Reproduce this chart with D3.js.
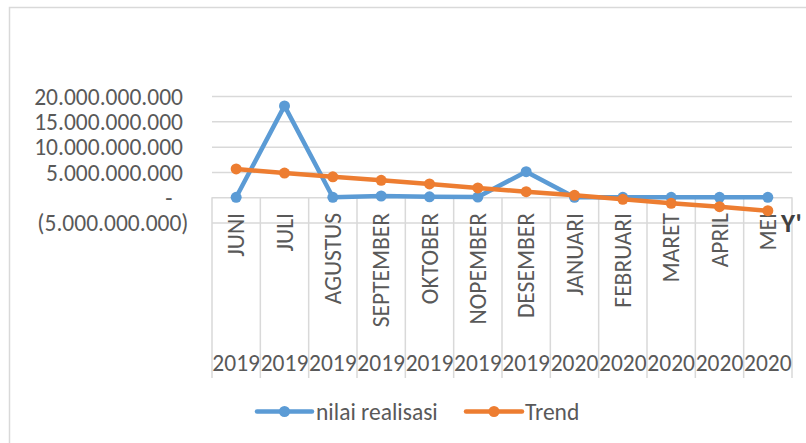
<!DOCTYPE html>
<html>
<head>
<meta charset="utf-8">
<script src="https://cdn.jsdelivr.net/npm/d3@7"></script>
<style>
  html, body { margin: 0; padding: 0; background: #ffffff; }
  svg { display: block; }
  text { font-family: Calibri, Carlito, "Liberation Sans", Arial, sans-serif; }
</style>
</head>
<body>
<svg id="chart" width="806" height="443"></svg>
<script>
// ---- data ----
const months = ["JUNI", "JULI", "AGUSTUS", "SEPTEMBER", "OKTOBER", "NOPEMBER", "DESEMBER",
                "JANUARI", "FEBRUARI", "MARET", "APRIL", "MEI"];
const years = ["2019", "2019", "2019", "2019", "2019", "2019", "2019",
               "2020", "2020", "2020", "2020", "2020"];
const nilaiRealisasi = [0, 18.04e9, 0, 0.25e9, 0.1e9, 0.05e9, 5.06e9, 0, 0, 0, 0, 0];
const trend = [5.59e9, 4.78e9, 4.05e9, 3.36e9, 2.63e9, 1.84e9, 1.11e9, 0.39e9,
               -0.40e9, -1.19e9, -1.86e9, -2.65e9];
const yTickValues = [-5e9, 0, 5e9, 10e9, 15e9, 20e9];
const yTickLabels = ["(5.000.000.000)", "-", "5.000.000.000", "10.000.000.000",
                     "15.000.000.000", "20.000.000.000"];
const seriesNames = ["nilai realisasi", "Trend"];
const seriesColors = ["#5B9BD5", "#ED7D31"];
const annotation = "Y'";

// ---- layout ----
const svg = d3.select("#chart");
const W = 806, H = 443;
const plotLeft = 212, plotRight = 792;
const textColor = "#595959";
const gridColor = "#d9d9d9";
const fs = 23.5;

// chart border (right/bottom edges fall outside the picture)
svg.append("rect")
  .attr("x", 9.5).attr("y", 7.5)
  .attr("width", W + 20).attr("height", H + 20)
  .attr("fill", "#fff")
  .attr("stroke", gridColor).attr("stroke-width", 1.5);

const x = d3.scaleBand().domain(months.map((m, i) => i)).range([plotLeft, plotRight]).padding(0);
const y = d3.scaleLinear().domain([-5e9, 20e9]).range([222.6, 96]);
const cx = i => x(i) + x.bandwidth() / 2;
const y0 = y(0);

// horizontal gridlines
const grid = svg.append("g").attr("transform", `translate(${plotLeft},0)`)
  .call(d3.axisLeft(y).tickValues(yTickValues).tickSize(-(plotRight - plotLeft)).tickFormat(""));
grid.select(".domain").remove();
grid.selectAll(".tick line").attr("stroke", gridColor).attr("stroke-width", 1.5);

// y tick labels (accounting style alignment)
const yAxis = svg.append("g").attr("transform", `translate(188.5,0)`)
  .call(d3.axisLeft(y).tickValues(yTickValues).tickSize(0).tickPadding(0)
    .tickFormat(d => yTickLabels[yTickValues.indexOf(d)]));
yAxis.select(".domain").remove();
yAxis.selectAll(".tick text")
  .attr("fill", textColor)
  .style("font-size", fs + "px")
  .attr("text-anchor", "end")
  .attr("dy", "0.35em")
  .attr("dx", d => d < 0 ? 0 : (d === 0 ? -16 : -5.5));

// category axis separators
const bounds = months.map((m, i) => x(i)).concat([plotRight]);
svg.append("g").selectAll("line").data(bounds).join("line")
  .attr("x1", d => d).attr("x2", d => d)
  .attr("y1", y0).attr("y2", 378)
  .attr("stroke", gridColor).attr("stroke-width", 1.5);

// month labels (rotated)
const xAxis = svg.append("g").attr("transform", `translate(0,213)`)
  .call(d3.axisBottom(x).tickSize(0).tickPadding(0).tickFormat(i => months[i]));
xAxis.select(".domain").remove();
xAxis.selectAll(".tick text")
  .attr("fill", textColor)
  .style("font-size", fs + "px")
  .attr("transform", "rotate(-90)")
  .attr("text-anchor", "end")
  .attr("x", 0).attr("y", 0)
  .attr("dy", "0.35em");

// year labels
svg.append("g").selectAll("text").data(years).join("text")
  .attr("x", (d, i) => cx(i))
  .attr("y", 370.5)
  .attr("text-anchor", "middle")
  .attr("fill", textColor)
  .style("font-size", fs + "px")
  .text(d => d);

// series
const line = d3.line().x((d, i) => cx(i)).y(d => y(d));
[nilaiRealisasi, trend].forEach((vals, k) => {
  const g = svg.append("g");
  g.append("path").datum(vals)
    .attr("d", line)
    .attr("fill", "none")
    .attr("stroke", seriesColors[k])
    .attr("stroke-width", 4.5)
    .attr("stroke-linejoin", "round")
    .attr("stroke-linecap", "round");
  g.selectAll("circle").data(vals).join("circle")
    .attr("cx", (d, i) => cx(i))
    .attr("cy", d => y(d))
    .attr("r", 5.5)
    .attr("fill", seriesColors[k]);
});

// annotation
svg.append("text")
  .attr("x", 781).attr("y", 232)
  .attr("fill", "#404040")
  .style("font-size", "27px")
  .style("font-weight", "bold")
  .text(annotation);

// legend
const legendY = 411.5;
const legendItems = [
  { x1: 257, x2: 312, tx: 316 },
  { x1: 466, x2: 522, tx: 525 }
];
legendItems.forEach((it, k) => {
  const g = svg.append("g");
  g.append("line")
    .attr("x1", it.x1).attr("x2", it.x2)
    .attr("y1", legendY).attr("y2", legendY)
    .attr("stroke", seriesColors[k]).attr("stroke-width", 4.5)
    .attr("stroke-linecap", "round");
  g.append("circle")
    .attr("cx", (it.x1 + it.x2) / 2).attr("cy", legendY)
    .attr("r", 5.5).attr("fill", seriesColors[k]);
  g.append("text")
    .attr("x", it.tx).attr("y", legendY)
    .attr("dy", "0.35em")
    .attr("fill", textColor)
    .style("font-size", fs + "px")
    .text(seriesNames[k]);
});
</script>
</body>
</html>
